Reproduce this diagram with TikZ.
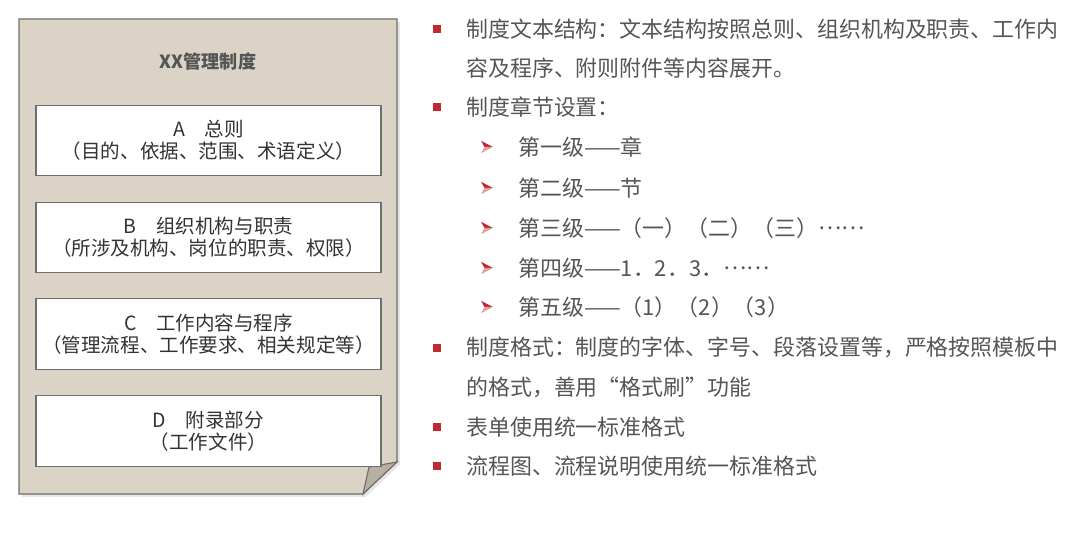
\documentclass[tikz,border=0pt]{standalone}
\usepackage{fontspec}
\setmainfont{Noto Sans CJK SC}
\usetikzlibrary{shadows}

\definecolor{paper}{HTML}{DCD3C7}
\definecolor{paperfold}{HTML}{B8AEA1}
\definecolor{edgegray}{HTML}{6E6E6E}
\definecolor{bulletred}{HTML}{BE2A2F}
\definecolor{textgray}{HTML}{555555}
\definecolor{boxtext}{HTML}{333333}

\begin{document}
\begin{tikzpicture}[
  x=0.025cm, y=-0.025cm,
  titletext/.style={font=\fontsize{12.9}{15}\selectfont\bfseries, text=textgray},
  partbox/.style={draw=edgegray, line width=0.8pt, fill=white, align=center, font=\fontsize{13.9}{15.6}\selectfont, text=boxtext, minimum width=8.62cm, minimum height=1.77cm, inner sep=0pt},
  itemtext/.style={anchor=west, align=left, inner sep=0pt, font=\fontsize{15.6}{28.1}\selectfont, text=textgray},
  sqbullet/.style={fill=bulletred, minimum size=0.22cm, inner sep=0pt},
  arrbullet/.style={minimum width=0.34cm, minimum height=0.34cm, inner sep=0pt,
    path picture={
      \fill[bulletred] ([xshift=-4.2pt,yshift=4.4pt]path picture bounding box.center) -- ([xshift=4.2pt]path picture bounding box.center) -- ([xshift=-1.8pt]path picture bounding box.center) -- cycle;
      \fill[bulletred!45] ([xshift=-4.2pt,yshift=-4.4pt]path picture bounding box.center) -- ([xshift=4.2pt]path picture bounding box.center) -- ([xshift=-1.8pt]path picture bounding box.center) -- cycle;
    }}
]
\useasboundingbox (0,0) rectangle (1080,537);

% document sheet with folded corner
\draw[draw=edgegray, line width=0.8pt, fill=paper, drop shadow={opacity=0.2, shadow xshift=2pt, shadow yshift=-2pt}]
  (19,19) -- (397,19) -- (397,462) -- (363,494) -- (19,494) -- cycle;
\draw[draw=edgegray, line width=0.8pt, fill=paperfold] (397,462) -- (369,467) -- (363,494) -- cycle;

\node[titletext] (title) at (208,62) {XX管理制度};
\node[partbox] (partA) at (208.5,140.5) {A\quad 总则\\（目的、依据、范围、术语定义）};
\node[partbox] (partB) at (208.5,237.5) {B\quad 组织机构与职责\\（所涉及机构、岗位的职责、权限）};
\node[partbox] (partC) at (208.5,334) {C\quad 工作内容与程序\\（管理流程、工作要求、相关规定等）};
\node[partbox] (partD) at (208.5,431) {D\quad 附录部分\\（工作文件）};

% list on the right
\node[sqbullet] (b1) at (437,29) {};
\node[itemtext] (t1) at (466,48.5) {制度文本结构：文本结构按照总则、组织机构及职责、工作内\\容及程序、附则附件等内容展开。};
\node[sqbullet] (b2) at (437,107) {};
\node[itemtext] (t2) at (466,107) {制度章节设置：};
\node[arrbullet] (a1) at (487,147) {};
\node[itemtext] (s1) at (518,147) {第一级——章};
\node[arrbullet] (a2) at (487,188) {};
\node[itemtext] (s2) at (518,188) {第二级——节};
\node[arrbullet] (a3) at (487,228) {};
\node[itemtext] (s3) at (518,228) {第三级——（一）（二）（三）\raisebox{0.3em}{……}};
\node[arrbullet] (a4) at (487,268) {};
\node[itemtext] (s4) at (518,268) {第四级——1．2．3．\raisebox{0.3em}{……}};
\node[arrbullet] (a5) at (487,307) {};
\node[itemtext] (s5) at (518,307) {第五级——（1）（2）（3）};
\node[sqbullet] (b3) at (437,348) {};
\node[itemtext] (t3) at (466,367.5) {制度格式：制度的字体、字号、段落设置等，严格按照模板中\\的格式，善用“格式刷”功能};
\node[sqbullet] (b4) at (437,427) {};
\node[itemtext] (t4) at (466,427) {表单使用统一标准格式};
\node[sqbullet] (b5) at (437,466) {};
\node[itemtext] (t5) at (466,466) {流程图、流程说明使用统一标准格式};
\end{tikzpicture}
\end{document}
